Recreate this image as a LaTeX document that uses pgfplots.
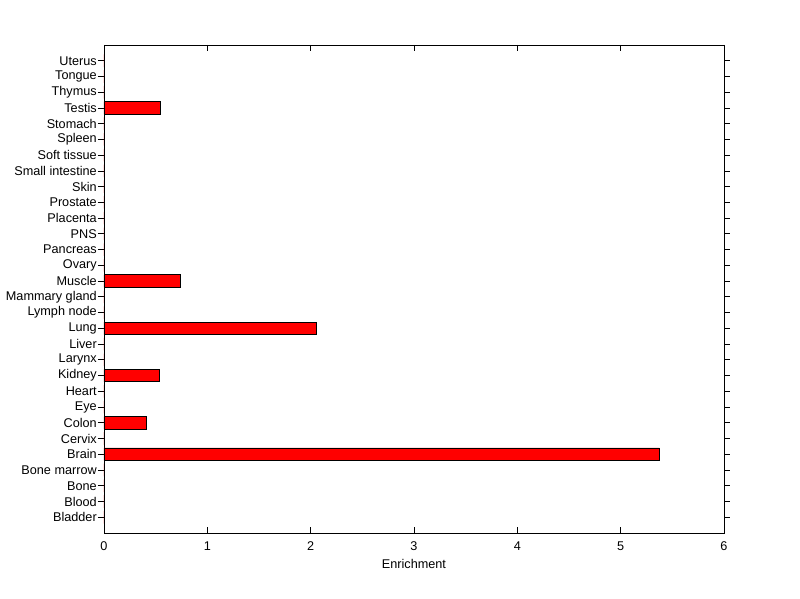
\documentclass[border=0pt]{standalone}
\usepackage{fontspec}
\setmainfont{Liberation Sans}
\usepackage{pgfplots}
\pgfplotsset{compat=1.18}
\begin{document}
\begin{tikzpicture}
\begin{axis}[
  scale only axis,
  width=465pt, height=366pt,
  xmin=0, xmax=6,
  ymin=-1, ymax=30,
  xtick={0,1,2,3,4,5,6},
  ytick={0,...,29},
  yticklabels={Bladder,Blood,Bone,Bone marrow,Brain,Cervix,Colon,Eye,Heart,Kidney,Larynx,Liver,Lung,Lymph node,Mammary gland,Muscle,Ovary,Pancreas,PNS,Placenta,Prostate,Skin,Small intestine,Soft tissue,Spleen,Stomach,Testis,Thymus,Tongue,Uterus},
  tick align=inside,
  major tick length=4.5pt,
  tick style={black, line width=0.6pt},
  axis line style={line width=0.6pt},
  ticklabel style={font=\fontsize{9.5}{10}\selectfont},
  yticklabel style={xshift=2.6pt},
  xticklabel style={yshift=-3pt},
  /pgf/number format/assume math mode=true,
  xlabel={Enrichment},
  xlabel style={font=\fontsize{9.5}{10}\selectfont, yshift=0.5pt},
  xbar,
  bar width=9.45pt,
  bar shift=0pt,
]
\addplot[fill=red, draw=black, line width=0.6pt] coordinates {
(0,0) (0,1) (0,2) (0,3) (5.375,4) (0,5) (0.41,6) (0,7) (0,8) (0.54,9)
(0,10) (0,11) (2.06,12) (0,13) (0,14) (0.74,15) (0,16) (0,17) (0,18) (0,19)
(0,20) (0,21) (0,22) (0,23) (0,24) (0,25) (0.545,26) (0,27) (0,28) (0,29)};
\end{axis}
\useasboundingbox (-78pt,-49.5pt) rectangle (522pt,399.75pt);
\end{tikzpicture}
\end{document}
